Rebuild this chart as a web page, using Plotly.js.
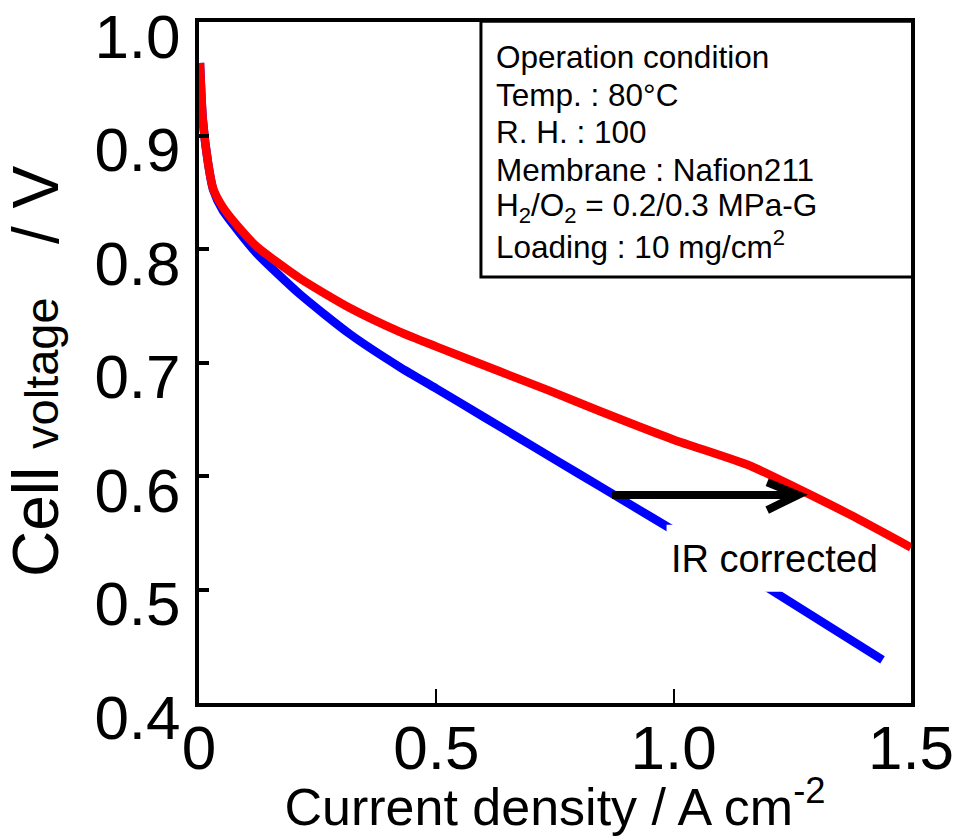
<!DOCTYPE html>
<html>
<head>
<meta charset="utf-8">
<script src="https://cdn.plot.ly/plotly-3.0.1.min.js"></script>
<style>html,body{margin:0;padding:0;background:#fff;}#chart{width:961px;height:836px;}</style>
</head>
<body>
<div id="chart"></div>
<script>
// Measured polarization curve (blue)
const measuredCurrent = [0.002, 0.008, 0.019, 0.030, 0.050, 0.086, 0.122, 0.213, 0.318, 0.423, 0.500, 0.600, 0.700, 0.800, 0.900, 1.000, 1.200, 1.440];
const measuredVoltage = [0.964, 0.914, 0.876, 0.852, 0.834, 0.814, 0.796, 0.760, 0.725, 0.696, 0.677, 0.652, 0.627, 0.602, 0.577, 0.552, 0.501, 0.438];

// IR-corrected polarization curve (red)
const correctedCurrent = [0.002, 0.008, 0.019, 0.030, 0.050, 0.086, 0.122, 0.213, 0.318, 0.423, 0.500, 0.634, 0.739, 0.845, 1.000, 1.161, 1.266, 1.371, 1.500];
const correctedVoltage = [0.964, 0.914, 0.876, 0.853, 0.837, 0.818, 0.802, 0.774, 0.748, 0.727, 0.714, 0.692, 0.675, 0.657, 0.632, 0.609, 0.588, 0.566, 0.537];

const xTickVals = [0, 0.5, 1.0, 1.5];
const xTickText = ['0', '0.5', '1.0', '1.5'];
const yTickVals = [0.4, 0.5, 0.6, 0.7, 0.8, 0.9, 1.0];
const yTickText = ['0.4', '0.5', '0.6', '0.7', '0.8', '0.9', '1.0'];

const conditionLines = [
  'Operation condition',
  'Temp. : 80°C',
  'R. H. : 100',
  'Membrane : Nafion211',
  'H<sub>2</sub>/O<sub>2</sub> = 0.2/0.3 MPa-G',
  'Loading : 10 mg/cm<sup>2</sup>'
];
const conditionLineY = [0.9484, 0.8932, 0.8380, 0.7828, 0.7275, 0.6723];

const FONT = 'Arial, "Liberation Sans", sans-serif';

const traces = [
  {x: measuredCurrent, y: measuredVoltage, type: 'scatter', mode: 'lines',
   line: {color: '#0000ff', width: 8.5, shape: 'spline', smoothing: 0.6}, showlegend: false, hoverinfo: 'skip'},
  {x: correctedCurrent, y: correctedVoltage, type: 'scatter', mode: 'lines',
   line: {color: '#ff0000', width: 8.5, shape: 'spline', smoothing: 0.6}, showlegend: false, hoverinfo: 'skip'}
];

const annotations = conditionLines.map((t, i) => ({
  xref: 'paper', yref: 'paper', x: 0.415, y: conditionLineY[i], xanchor: 'left', yanchor: 'middle',
  align: 'left', showarrow: false, text: t, font: {size: 31.5, family: FONT, color: '#000'}
}));
annotations.push({xref: 'x', yref: 'y', x: 0.99, y: 0.527, xanchor: 'left', yanchor: 'middle',
  showarrow: false, text: 'IR corrected', font: {size: 38, family: FONT, color: '#000'}});

const layout = {
  width: 961, height: 836,
  margin: {l: 199, r: 50, t: 22, b: 133, pad: 0},
  paper_bgcolor: '#fff', plot_bgcolor: '#fff',
  font: {family: FONT, color: '#000'},
  showlegend: false,
  xaxis: {
    range: [0, 1.5], showgrid: false, zeroline: false,
    showline: true, linecolor: '#000', linewidth: 4, mirror: true,
    ticks: 'inside', ticklen: 14, tickwidth: 2, tickcolor: '#000',
    tickvals: xTickVals, ticktext: xTickText,
    tickfont: {size: 62, family: FONT, color: '#000'},
    ticklabelstandoff: -12, ticklabeloverflow: 'allow',
    title: {text: 'Current density / A cm<sup>-2</sup>', font: {size: 52, family: FONT, color: '#000'}, standoff: 1}
  },
  yaxis: {
    range: [0.4, 1.0], showgrid: false, zeroline: false,
    showline: true, linecolor: '#000', linewidth: 4, mirror: true,
    ticks: 'inside', ticklen: 10, tickwidth: 4, tickcolor: '#000',
    tickvals: yTickVals, ticktext: yTickText,
    tickfont: {size: 62, family: FONT, color: '#000'},
    ticklabelstandoff: 2, ticklabelshift: 14, ticklabeloverflow: 'allow',
    title: {text: 'Cell <span style="font-size:47px">voltage</span>&nbsp;&nbsp;&nbsp;/ V&nbsp;', font: {size: 64, family: FONT, color: '#000'}, standoff: 30}
  },
  shapes: [
    // condition box
    {type: 'rect', xref: 'paper', yref: 'paper', x0: 0.396, x1: 1.003, y0: 0.6256, y1: 1.001,
     line: {color: '#000', width: 3}, fillcolor: 'rgba(0,0,0,0)', layer: 'above'},
    // white mask behind label
    {type: 'rect', xref: 'x', yref: 'y', x0: 0.985, x1: 1.25, y0: 0.498, y1: 0.557,
     line: {width: 0}, fillcolor: '#fff', layer: 'above'},
    // arrow
    {type: 'path', xref: 'x', yref: 'y',
     path: 'M0.870,0.5833 L1.258,0.5833 M1.197,0.5945 L1.262,0.5833 L1.197,0.5700',
     line: {color: '#000', width: 8}, layer: 'above'}
  ],
  annotations: annotations
};

Plotly.newPlot('chart', traces, layout, {staticPlot: true, displayModeBar: false});
</script>
</body>
</html>
